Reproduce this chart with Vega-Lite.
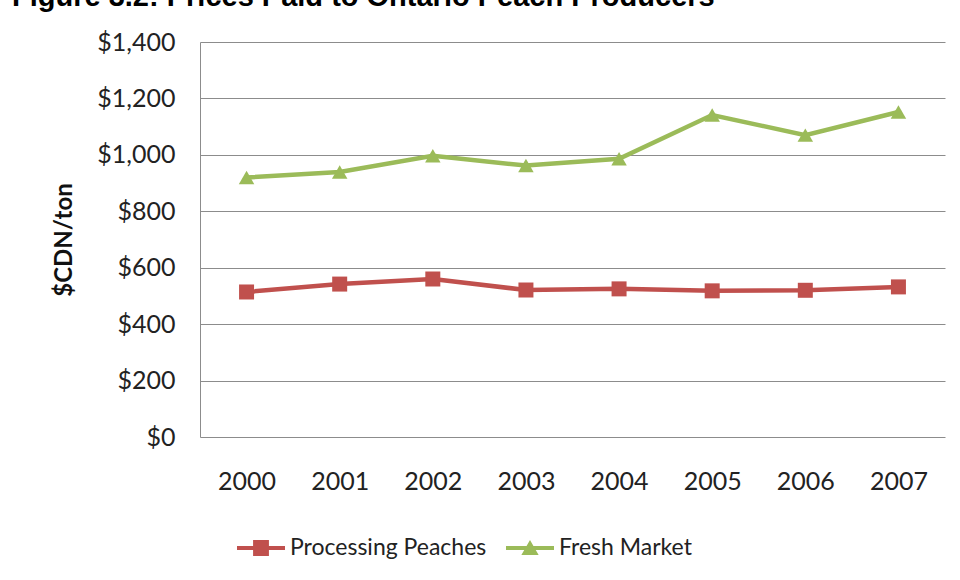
{
  "$schema": "https://vega.github.io/schema/vega-lite/v6.json",
  "width": 745,
  "height": 395,
  "autosize": {"type": "none"},
  "padding": {"left": 200, "top": 42, "right": 15, "bottom": 143},
  "background": "white",
  "title": {
    "text": "Figure 3.2: Prices Paid to Ontario Peach Producers",
    "anchor": "start",
    "frame": "group",
    "dx": -188,
    "dy": 5,
    "offset": 0,
    "baseline": "alphabetic",
    "font": "Liberation Sans",
    "fontSize": 29,
    "fontWeight": "bold",
    "color": "#000000"
  },
  "data": {
    "values": [
      {"year": "2000", "series": "Processing Peaches", "price": 514},
      {"year": "2001", "series": "Processing Peaches", "price": 542},
      {"year": "2002", "series": "Processing Peaches", "price": 560},
      {"year": "2003", "series": "Processing Peaches", "price": 521},
      {"year": "2004", "series": "Processing Peaches", "price": 525},
      {"year": "2005", "series": "Processing Peaches", "price": 518},
      {"year": "2006", "series": "Processing Peaches", "price": 520},
      {"year": "2007", "series": "Processing Peaches", "price": 532},
      {"year": "2000", "series": "Fresh Market", "price": 920},
      {"year": "2001", "series": "Fresh Market", "price": 939},
      {"year": "2002", "series": "Fresh Market", "price": 997},
      {"year": "2003", "series": "Fresh Market", "price": 962},
      {"year": "2004", "series": "Fresh Market", "price": 986},
      {"year": "2005", "series": "Fresh Market", "price": 1141},
      {"year": "2006", "series": "Fresh Market", "price": 1070},
      {"year": "2007", "series": "Fresh Market", "price": 1152}
    ]
  },
  "encoding": {
    "x": {
      "field": "year",
      "type": "ordinal",
      "scale": {"type": "point", "padding": 0.5},
      "axis": {
        "title": null,
        "labelAngle": 0,
        "ticks": false,
        "domain": false,
        "labelPadding": 32,
        "labelFont": "Lato",
        "labelFontSize": 25,
        "labelColor": "#222222"
      }
    },
    "y": {
      "field": "price",
      "type": "quantitative",
      "scale": {"domain": [0, 1400], "nice": false},
      "axis": {
        "title": "$CDN/ton",
        "values": [0, 200, 400, 600, 800, 1000, 1200, 1400],
        "format": "$,.0f",
        "ticks": false,
        "domain": true,
        "domainColor": "#8c8c8c",
        "domainWidth": 1,
        "grid": true,
        "gridColor": "#8c8c8c",
        "gridWidth": 1,
        "labelPadding": 25,
        "labelFont": "Lato",
        "labelFontSize": 25,
        "labelColor": "#222222",
        "titleFont": "Lato",
        "titleFontSize": 24,
        "titleFontWeight": "bold",
        "titleColor": "#111111",
        "titlePadding": 20
      }
    },
    "color": {
      "field": "series",
      "type": "nominal",
      "scale": {
        "domain": ["Processing Peaches", "Fresh Market"],
        "range": ["#C0504D", "#9BBB59"]
      },
      "legend": {
        "title": null,
        "orient": "none",
        "direction": "horizontal",
        "legendX": 37,
        "legendY": 482,
        "symbolSize": 2304,
        "symbolStrokeWidth": 0,
        "labelFont": "Lato",
        "labelFontSize": 23,
        "labelColor": "#222222",
        "labelOffset": 5,
        "labelLimit": 400,
        "columnPadding": 19,
        "encode": {
          "symbols": {
            "update": {
              "shape": {
                "signal": "datum.value === 'Processing Peaches' ? 'M-1,-0.085L1,-0.085L1,0.085L-1,0.085Z M-0.33,-0.33L0.33,-0.33L0.33,0.33L-0.33,0.33Z' : 'M-1,-0.085L1,-0.085L1,0.085L-1,0.085Z M0,-0.33L0.36,0.29L-0.36,0.29Z'"
              },
              "fill": {"signal": "datum.value === 'Processing Peaches' ? '#C0504D' : '#9BBB59'"},
              "fillOpacity": {"value": 1},
              "strokeWidth": {"value": 0}
            }
          }
        }
      }
    }
  },
  "layer": [
    {
      "mark": {"type": "line", "strokeWidth": 4.5}
    },
    {
      "transform": [{"filter": "datum.series === 'Processing Peaches'"}],
      "mark": {"type": "point", "shape": "square", "filled": true, "opacity": 1, "size": 225}
    },
    {
      "transform": [{"filter": "datum.series === 'Fresh Market'"}],
      "mark": {"type": "point", "shape": "triangle-up", "filled": true, "opacity": 1, "size": 240}
    }
  ],
  "config": {
    "view": {"stroke": null}
  }
}
